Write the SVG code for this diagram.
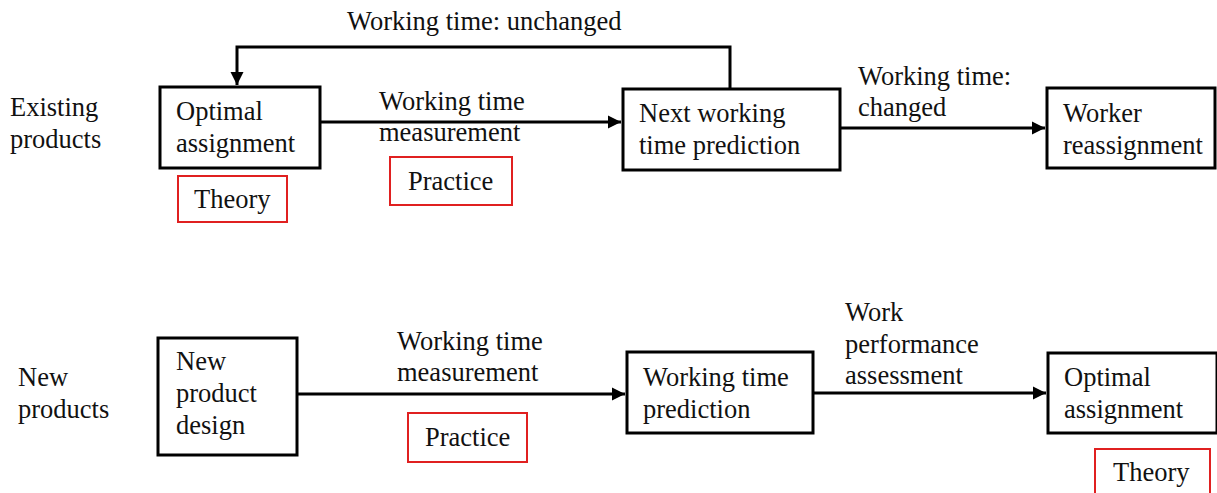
<svg xmlns="http://www.w3.org/2000/svg" width="1217" height="493" viewBox="0 0 1217 493" font-family="'Liberation Serif', 'Times New Roman', serif">
<style>
text{font-family:'Liberation Serif','Times New Roman',serif;font-size:26.5px;fill:#111}
.box{fill:#fff;stroke:#000;stroke-width:3}
.red{fill:#fff;stroke:#e02020;stroke-width:2}
.conn{fill:none;stroke:#000;stroke-width:3}
</style>
<defs>
<marker id="ah" viewBox="0 0 10 10" refX="10" refY="5" markerWidth="4.5" markerHeight="4.5" markerUnits="strokeWidth" orient="auto">
<path d="M0,0 L10,5 L0,10 z" fill="#000"/>
</marker>
</defs>
<rect width="1217" height="493" fill="#fff"/>
<g id="connectors">
<path class="conn" d="M730,89 V47 H237 V85" marker-end="url(#ah)"/>
<path class="conn" d="M320,122 H621" marker-end="url(#ah)"/>
<path class="conn" d="M840,128 H1045" marker-end="url(#ah)"/>
<path class="conn" d="M297,394 H625" marker-end="url(#ah)"/>
<path class="conn" d="M813,393 H1046" marker-end="url(#ah)"/>
</g>
<g id="labels">
<text x="347" y="30">Working time: unchanged</text>
<text x="379" y="110">Working time</text>
<text x="379" y="141">measurement</text>
<text x="858" y="85">Working time:</text>
<text x="858" y="116">changed</text>
<text x="397" y="350">Working time</text>
<text x="397" y="381">measurement</text>
<text x="845" y="321">Work</text>
<text x="845" y="353">performance</text>
<text x="845" y="384">assessment</text>
</g>
<g id="row-existing"><text x="10" y="116">Existing</text><text x="10" y="148">products</text></g>
<g id="row-new"><text x="18" y="386">New</text><text x="18" y="418">products</text></g>
<g id="n1"><rect class="box" x="160" y="87" width="160" height="81"/><text x="176" y="120">Optimal</text><text x="176" y="152">assignment</text></g>
<g id="t1"><rect class="red" x="178" y="176" width="109" height="46"/><text x="194" y="208">Theory</text></g>
<g id="n2"><rect class="box" x="623" y="89" width="217" height="81"/><text x="639" y="122">Next working</text><text x="639" y="154">time prediction</text></g>
<g id="p1"><rect class="red" x="390" y="157" width="122" height="48"/><text x="408" y="190">Practice</text></g>
<g id="n3"><rect class="box" x="1047" y="88" width="168" height="80"/><text x="1063" y="122">Worker</text><text x="1063" y="154">reassignment</text></g>
<g id="n4"><rect class="box" x="158" y="338" width="139" height="117"/><text x="176" y="370">New</text><text x="176" y="402">product</text><text x="176" y="434">design</text></g>
<g id="p2"><rect class="red" x="408" y="413" width="119" height="49"/><text x="425" y="446">Practice</text></g>
<g id="n5"><rect class="box" x="627" y="352" width="186" height="81"/><text x="643" y="386">Working time</text><text x="643" y="418">prediction</text></g>
<g id="n6"><rect class="box" x="1048" y="353" width="169" height="80"/><text x="1064" y="386">Optimal</text><text x="1064" y="418">assignment</text></g>
<g id="t2"><rect class="red" x="1095" y="449" width="115" height="46"/><text x="1113" y="481">Theory</text></g>
</svg>
